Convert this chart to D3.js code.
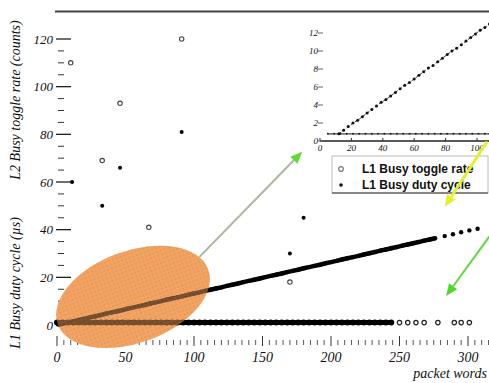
<!DOCTYPE html>
<html>
<head>
<meta charset="utf-8">
<script src="https://cdn.jsdelivr.net/npm/d3@7"></script>
<style>
  html, body { margin: 0; padding: 0; background: #fff; }
  svg { display: block; }
  .serif { font-family: "Liberation Serif", "DejaVu Serif", serif; font-style: italic; fill: #111; }
  .legend { font-family: "Liberation Sans", Arial, sans-serif; font-weight: bold; font-size: 12px; fill: #111; }
</style>
</head>
<body>
<div id="chart"></div>
<script>
// --- main plot data (packet words vs busy signals) ---
const xTicks = [0, 50, 100, 150, 200, 250, 300];
const yTicks = [0, 20, 40, 60, 80, 100, 120];

// L1 Busy duty cycle, the dense diagonal band
const dutyBand = [
  [1, 0.2], [4, 0.5], [8, 1.1], [12, 1.6], [16, 2.1], [20, 2.6], [24, 3.2], [28, 3.7],
  [32, 4.2], [36, 4.8], [40, 5.3], [44, 5.8], [48, 6.3], [52, 6.9], [56, 7.4], [60, 7.9],
  [64, 8.4], [68, 9.0], [72, 9.5], [76, 10.0], [80, 10.6], [84, 11.1], [88, 11.6], [92, 12.1],
  [96, 12.7], [100, 13.2], [104, 13.7], [108, 14.3], [112, 14.8], [116, 15.3], [120, 15.8],
  [124, 16.4], [128, 16.9], [132, 17.4], [136, 18.0], [140, 18.5], [144, 19.0], [148, 19.5],
  [152, 20.1], [156, 20.6], [160, 21.1], [164, 21.6], [168, 22.2], [172, 22.7], [176, 23.2],
  [180, 23.8], [184, 24.3], [188, 24.8], [192, 25.3], [196, 25.9], [200, 26.4], [204, 26.9],
  [208, 27.5], [212, 28.0], [216, 28.5], [220, 29.0], [224, 29.6], [228, 30.1], [232, 30.6],
  [236, 31.2], [240, 31.7], [244, 32.2], [248, 32.7], [252, 33.3], [256, 33.8], [260, 34.3],
  [264, 34.8], [268, 35.4], [272, 35.9], [276, 36.4]
];
const dutySparse = [[283, 37.3], [289, 38.1], [295, 38.9], [301, 39.7], [307, 40.4]];
const dutyOutliers = [[11, 60], [46, 66], [33, 50], [91, 81], [180, 45], [170, 30]];

// L2 Busy toggle rate, flat band near zero
const toggleBandX = [
  0, 4, 8, 12, 16, 20, 24, 28, 32, 36, 40, 44, 48, 52, 56, 60, 64, 68, 72, 76, 80, 84, 88, 92,
  96, 100, 104, 108, 112, 116, 120, 124, 128, 132, 136, 140, 144, 148, 152, 156, 160, 164, 168,
  172, 176, 180, 184, 188, 192, 196, 200, 204, 208, 212, 216, 220, 224, 228, 232, 236, 240, 244
];
const toggleBandY = 1;
const toggleSparse = [[250, 1], [256, 1], [262, 1], [268, 1], [278, 1], [290, 1], [295, 1], [301, 1]];
const toggleOutliers = [[10, 110], [46, 93], [33, 69], [67, 41], [91, 120], [170, 18]];

// --- inset (zoom on small packets) ---
const insetXTicks = [0, 20, 40, 60, 80, 100];
const insetYTicks = [0, 2, 4, 6, 8, 10, 12];
const insetDuty = [
  [12, 0.8], [15, 1.2], [18, 1.6], [21, 2.0], [24, 2.3], [27, 2.7], [30, 3.1], [33, 3.5],
  [36, 3.9], [39, 4.3], [42, 4.6], [45, 5.0], [48, 5.4], [51, 5.8], [54, 6.2], [57, 6.5],
  [60, 6.9], [63, 7.3], [66, 7.7], [69, 8.1], [72, 8.4], [75, 8.8], [78, 9.2], [81, 9.6],
  [84, 10.0], [87, 10.3], [90, 10.7], [93, 11.1], [96, 11.5], [99, 11.9], [102, 12.3],
  [105, 12.6], [108, 13.0]
];
const insetToggleX = [5, 9, 13, 17, 21, 25, 29, 33, 37, 41, 45, 49, 53, 57, 61, 65, 69, 73, 77, 81, 85, 89, 93, 97, 101, 105, 108];
const insetToggleY = 0.8;

const legendLabels = ['L1 Busy toggle rate', 'L1 Busy duty cycle'];

// annotations, given in main-plot data units
const ellipseMark = { cx: 55.5, cy: 11.8, rx: 80, ry: 46, angle: -20 };
const arrows = [
  { from: [104, 28.6], to: [179, 72.7], line: '#a9b79f', head: '#5fd83a', width: 2 },
  { from: [314, 77], to: [283, 49.6], line: '#e6ef2a', head: '#e6ef2a', width: 3 },
  { from: [318, 39], to: [284, 12.2], line: '#62d63f', head: '#4fd82a', width: 2 }
];

const W = 489, H = 383;

const svg = d3.select('#chart').append('svg')
  .attr('width', W)
  .attr('height', H);

const x = d3.scaleLinear().domain([0, 300]).range([57, 468]);
const y = d3.scaleLinear().domain([0, 120]).range([325, 39]);

const ix = d3.scaleLinear().domain([0, 100]).range([320, 477]);
const iy = d3.scaleLinear().domain([0, 12]).range([141, 33]);

// dotted orange fill for the highlight ellipse
const defs = svg.append('defs');
const pat = defs.append('pattern')
  .attr('id', 'dots')
  .attr('width', 4).attr('height', 4)
  .attr('patternUnits', 'userSpaceOnUse');
pat.append('rect').attr('width', 4).attr('height', 4).attr('fill', '#f2a464');
pat.append('circle').attr('cx', 2).attr('cy', 2).attr('r', 1).attr('fill', '#d9843f');

// top frame line
svg.append('line')
  .attr('x1', 55).attr('x2', W)
  .attr('y1', y(131.5)).attr('y2', y(131.5))
  .attr('stroke', '#444').attr('stroke-width', 2);

// y axis ticks + labels
const yMinor = d3.range(0, 125, 5).filter(v => v % 20 !== 0);
svg.append('g').selectAll('line.minor')
  .data(yMinor).enter().append('line')
  .attr('x1', 58).attr('x2', 64)
  .attr('y1', d => y(d)).attr('y2', d => y(d))
  .attr('stroke', '#333').attr('stroke-width', 1);
svg.append('g').selectAll('line.major')
  .data(yTicks).enter().append('line')
  .attr('x1', 56).attr('x2', 71)
  .attr('y1', d => y(d)).attr('y2', d => y(d))
  .attr('stroke', '#222').attr('stroke-width', 1.3);
svg.append('g').selectAll('text')
  .data(yTicks).enter().append('text')
  .attr('class', 'serif')
  .attr('x', 53).attr('y', d => y(d))
  .attr('dy', '0.35em')
  .attr('text-anchor', 'end')
  .attr('font-size', '13px')
  .text(d => d);

// x axis ticks + labels
const xMinor = d3.range(0, 320, 5).filter(v => v % 50 !== 0);
svg.append('g').selectAll('line')
  .data(xMinor).enter().append('line')
  .attr('x1', d => x(d)).attr('x2', d => x(d))
  .attr('y1', 340).attr('y2', 345)
  .attr('stroke', '#555').attr('stroke-width', 1);
svg.append('g').selectAll('line')
  .data(xTicks).enter().append('line')
  .attr('x1', d => x(d)).attr('x2', d => x(d))
  .attr('y1', 336).attr('y2', 346)
  .attr('stroke', '#333').attr('stroke-width', 1);
svg.append('g').selectAll('text')
  .data(xTicks).enter().append('text')
  .attr('class', 'serif')
  .attr('x', d => x(d)).attr('y', 362)
  .attr('text-anchor', 'middle')
  .attr('font-size', '14px')
  .text(d => d);

svg.append('text')
  .attr('class', 'serif')
  .attr('x', 487).attr('y', 378)
  .attr('text-anchor', 'end')
  .attr('font-size', '14px')
  .text('packet words');

// rotated y labels
svg.append('text')
  .attr('class', 'serif')
  .attr('transform', 'translate(20,283) rotate(-90)')
  .attr('text-anchor', 'middle')
  .attr('font-size', '14px')
  .text('L1 Busy duty cycle (µs)');
svg.append('text')
  .attr('class', 'serif')
  .attr('transform', 'translate(20,100) rotate(-90)')
  .attr('text-anchor', 'middle')
  .attr('font-size', '14px')
  .text('L2 Busy toggle rate (counts)');

// ellipse base layer (under the data)
const ellT = `translate(${x(ellipseMark.cx)},${y(ellipseMark.cy)}) rotate(${ellipseMark.angle})`;
svg.append('ellipse')
  .attr('transform', ellT)
  .attr('rx', ellipseMark.rx).attr('ry', ellipseMark.ry)
  .attr('fill', '#f2a464');

// toggle rate band
const plot = svg.append('g');
plot.append('path')
  .datum(toggleBandX)
  .attr('d', d3.line().x(d => x(d)).y(() => y(toggleBandY)))
  .attr('stroke', '#000').attr('stroke-width', 5).attr('fill', 'none');
plot.selectAll('circle.tb')
  .data(toggleBandX).enter().append('circle')
  .attr('cx', d => x(d)).attr('cy', y(toggleBandY)).attr('r', 3)
  .attr('fill', '#000');
plot.selectAll('circle.ts')
  .data(toggleSparse).enter().append('circle')
  .attr('cx', d => x(d[0])).attr('cy', d => y(d[1])).attr('r', 2.2)
  .attr('fill', '#fff').attr('stroke', '#222').attr('stroke-width', 1.2);

// duty cycle band
plot.append('path')
  .datum(dutyBand)
  .attr('d', d3.line().x(d => x(d[0])).y(d => y(d[1])))
  .attr('stroke', '#000').attr('stroke-width', 4.5).attr('fill', 'none');
plot.selectAll('circle.db')
  .data(dutyBand.concat(dutySparse)).enter().append('circle')
  .attr('cx', d => x(d[0])).attr('cy', d => y(d[1])).attr('r', 2.2)
  .attr('fill', '#000');

// outliers
plot.selectAll('circle.to')
  .data(toggleOutliers).enter().append('circle')
  .attr('cx', d => x(d[0])).attr('cy', d => y(d[1])).attr('r', 2.2)
  .attr('fill', '#fff').attr('stroke', '#444').attr('stroke-width', 1.1);
plot.selectAll('circle.do')
  .data(dutyOutliers).enter().append('circle')
  .attr('cx', d => x(d[0])).attr('cy', d => y(d[1])).attr('r', 2)
  .attr('fill', '#000');

// ellipse top layer, dotted and see-through
svg.append('ellipse')
  .attr('transform', ellT)
  .attr('rx', ellipseMark.rx).attr('ry', ellipseMark.ry)
  .attr('fill', 'url(#dots)')
  .attr('opacity', 0.5);

// --- inset ---
const inset = svg.append('g');
inset.append('line')
  .attr('x1', ix(0)).attr('x2', W)
  .attr('y1', iy(0)).attr('y2', iy(0))
  .attr('stroke', '#222').attr('stroke-width', 1.5);
inset.selectAll('line.it')
  .data(insetXTicks).enter().append('line')
  .attr('x1', d => ix(d)).attr('x2', d => ix(d))
  .attr('y1', iy(0) - 3).attr('y2', iy(0))
  .attr('stroke', '#333');
inset.selectAll('text.ixl')
  .data(insetXTicks).enter().append('text')
  .attr('class', 'serif')
  .attr('x', d => ix(d)).attr('y', iy(0) + 10)
  .attr('text-anchor', 'middle')
  .attr('font-size', '9px')
  .text(d => d);
inset.selectAll('line.iyt')
  .data(insetYTicks).enter().append('line')
  .attr('x1', ix(0) - 2).attr('x2', ix(0) + 3)
  .attr('y1', d => iy(d)).attr('y2', d => iy(d))
  .attr('stroke', '#666');
inset.selectAll('text.iyl')
  .data(insetYTicks).enter().append('text')
  .attr('class', 'serif')
  .attr('x', ix(0) - 2).attr('y', d => iy(d))
  .attr('dy', '0.35em')
  .attr('text-anchor', 'end')
  .attr('font-size', '9px')
  .text(d => d);

inset.append('path')
  .datum(insetToggleX)
  .attr('d', d3.line().x(d => ix(d)).y(() => iy(insetToggleY)))
  .attr('stroke', '#444').attr('stroke-width', 1.2).attr('fill', 'none');
inset.selectAll('circle.itg')
  .data(insetToggleX).enter().append('circle')
  .attr('cx', d => ix(d)).attr('cy', iy(insetToggleY)).attr('r', 1)
  .attr('fill', '#222');
inset.append('path')
  .datum(insetDuty)
  .attr('d', d3.line().x(d => ix(d[0])).y(d => iy(d[1])))
  .attr('stroke', '#333').attr('stroke-width', 1).attr('fill', 'none')
  .attr('stroke-dasharray', '3,2');
inset.selectAll('circle.idu')
  .data(insetDuty).enter().append('circle')
  .attr('cx', d => ix(d[0])).attr('cy', d => iy(d[1])).attr('r', 1.5)
  .attr('fill', '#111');

// legend
const lg = svg.append('g');
lg.append('rect')
  .attr('x', 332).attr('y', 156).attr('width', 156).attr('height', 37)
  .attr('fill', '#fff').attr('stroke', '#bbb').attr('stroke-width', 1);
lg.append('line')
  .attr('x1', 332).attr('x2', 488).attr('y1', 193).attr('y2', 193)
  .attr('stroke', '#333').attr('stroke-width', 1.2);
legendLabels.forEach((label, i) => {
  const cy = 169 + i * 16;
  if (i === 0) {
    lg.append('circle').attr('cx', 341).attr('cy', cy).attr('r', 2.3)
      .attr('fill', '#fff').attr('stroke', '#777').attr('stroke-width', 1.2);
  } else {
    lg.append('circle').attr('cx', 341).attr('cy', cy).attr('r', 1.8).attr('fill', '#111');
  }
  lg.append('text')
    .attr('class', 'legend')
    .attr('x', 362).attr('y', cy)
    .attr('dy', '0.35em')
    .text(label);
});

// arrows
arrows.forEach(a => {
  const x1 = x(a.from[0]), y1 = y(a.from[1]);
  const x2 = x(a.to[0]), y2 = y(a.to[1]);
  const ang = Math.atan2(y2 - y1, x2 - x1);
  const len = 12, half = 5;
  const bx = x2 - len * Math.cos(ang), by = y2 - len * Math.sin(ang);
  svg.append('line')
    .attr('x1', x1).attr('y1', y1).attr('x2', bx).attr('y2', by)
    .attr('stroke', a.line).attr('stroke-width', a.width);
  svg.append('polygon')
    .attr('points', [
      [x2, y2],
      [bx + half * Math.sin(ang), by - half * Math.cos(ang)],
      [bx - half * Math.sin(ang), by + half * Math.cos(ang)]
    ].map(p => p.join(',')).join(' '))
    .attr('fill', a.head);
});
</script>
</body>
</html>
